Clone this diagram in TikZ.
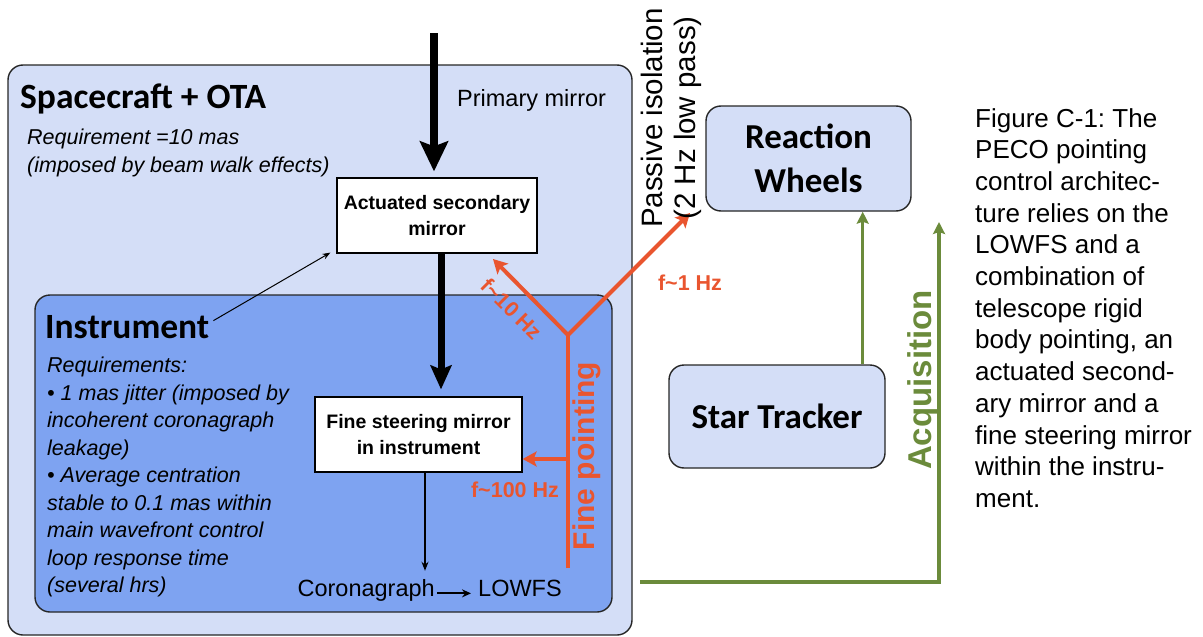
\documentclass[tikz,border=0pt]{standalone}
\usepackage{fontspec}
\setmainfont{Liberation Sans}
\newfontfamily\calibrifont{Carlito}
\usetikzlibrary{arrows.meta,positioning}

\definecolor{craftfill}{HTML}{D4DEF7}
\definecolor{instfill}{HTML}{7EA3F1}
\definecolor{pointred}{HTML}{E9552F}
\definecolor{acqgreen}{HTML}{6B8B3B}
\frenchspacing

\begin{document}
\begin{tikzpicture}[x=1pt,y=-1pt,
    panel/.style={draw=black!85,line width=1.4pt,rounded corners=15pt,inner sep=0pt},
    mirrorbox/.style={draw,fill=white,line width=1.2pt,align=center,inner sep=0pt,
      font=\fontsize{19.5}{26}\selectfont\bfseries},
    unitbox/.style={panel,fill=craftfill,align=center,
      font=\calibrifont\fontsize{35}{44}\selectfont\bfseries},
    boxtitle/.style={anchor=base west,inner sep=0pt,
      font=\calibrifont\fontsize{35.5}{42}\selectfont\bfseries},
    req/.style={anchor=north west,inner sep=0pt,align=left,
      font=\fontsize{21.5}{27.5}\selectfont\itshape},
    plain/.style={inner sep=0pt,font=\fontsize{23.5}{28}\selectfont},
    freq/.style={inner sep=0pt,text=pointred,font=\fontsize{21.5}{24}\selectfont\bfseries},
    beam/.style={line width=8pt,-{Stealth[length=30pt,width=28pt,inset=5pt]}},
    redline/.style={draw=pointred,line width=4pt},
    redarrow/.style={redline,-{Stealth[length=14pt,width=15pt,inset=3pt]}},
    greenarrow/.style={draw=acqgreen,line width=3.5pt,-{Stealth[length=12pt,width=12pt,inset=2pt]}},
    thinarrow/.style={line width=1.2pt,-{Stealth[length=9pt,width=7pt]}}]
  \useasboundingbox (0,0) rectangle (1203,637);

  % containers
  \node[panel,fill=craftfill,minimum width=624pt,minimum height=570pt] (craft) at (320,350) {};
  \node[panel,fill=instfill,minimum width=577pt,minimum height=317pt] (inst) at (323.5,453.5) {};

  \node[boxtitle] (crafttitle) at (20,108) {Spacecraft + OTA};
  \node[boxtitle] (insttitle) at (45,338) {Instrument};
  \node[plain,anchor=base west] (primary) at (457,106) {Primary mirror};

  \node[req] (craftreq) at (27,129) {Requirement =10 mas\\(imposed by beam walk effects)};
  \node[req] (instreq) at (47,357) {Requirements:\\
    \textbullet\ 1 mas jitter (imposed by\\incoherent coronagraph\\leakage)\\
    \textbullet\ Average centration\\stable to 0.1 mas within\\main wavefront control\\
    loop response time\\(several hrs)};

  % mirrors and detectors
  \node[mirrorbox,minimum width=200pt,minimum height=75pt] (asm) at (437,215.5) {Actuated secondary\\mirror};
  \node[mirrorbox,minimum width=207pt,minimum height=75pt] (fsm) at (418.5,434.5) {Fine steering mirror\\in instrument};
  \node[plain,anchor=base east] (coro) at (435,596) {Coronagraph};
  \node[plain,anchor=base west] (lowfs) at (478,596) {LOWFS};

  % outside units
  \node[unitbox,minimum width=205pt,minimum height=105pt] (rw) at (808.5,158.5) {Reaction\\Wheels};
  \node[unitbox,minimum width=216pt,minimum height=103pt] (st) at (777,416.5) {Star Tracker};

  % light path
  \coordinate (sky) at (434,33);
  \draw[beam] (sky) -- (sky |- asm.north) [shorten >=6pt];
  \draw[beam,line width=7pt,-{Stealth[length=24pt,width=21pt,inset=4pt]},shorten >=7pt]
    ([xshift=4pt]asm.south) -- ([xshift=4pt]asm.south |- fsm.north);
  \draw[thinarrow,shorten >=8pt] ([xshift=6.5pt]fsm.south) -- ([xshift=6.5pt]fsm.south |- coro.north);
  \draw[line width=2pt,-{Stealth[length=9pt,width=8pt]}] ([xshift=2pt]coro.mid east) -- ([xshift=-7pt]lowfs.mid west);
  \draw[line width=1pt,-{Stealth[length=8pt,width=6pt]}] ([xshift=4pt,yshift=6pt]insttitle.east) -- ([xshift=-6pt,yshift=1pt]asm.south west);

  % fine pointing loop
  \coordinate (fork) at (568,335);
  \coordinate (fpfoot) at (568,568);
  \coordinate (asmfb) at (493,259);
  \coordinate (rwfb) at (690,213);
  \coordinate (fsmfb) at ([yshift=-24.5pt]fsm.east);
  \draw[redline] (fpfoot) -- (fork);
  \draw[redarrow] (fork) -- (asmfb);
  \draw[redarrow] (fork) -- (rwfb);
  \draw[redarrow] (fpfoot |- fsmfb) -- (fsmfb);
  \node[freq,rotate=-45] (f10) at (512,309) {f\textasciitilde10 Hz};
  \node[freq] (f1) at (690,283) {f\textasciitilde1 Hz};
  \node[freq] (f100) at (515,490) {f\textasciitilde100 Hz};
  \node[rotate=90,inner sep=0pt,text=pointred,font=\fontsize{30}{36}\selectfont\bfseries] (fp) at (587,456) {Fine pointing};
  \node[rotate=90,align=center,inner sep=0pt,font=\fontsize{29.5}{33}\selectfont] (iso) at (671,118) {Passive isolation\\(2 Hz low pass)};

  % acquisition loop
  \coordinate (acqfoot) at (640,582);
  \coordinate (acqtop) at (939,222);
  \draw[greenarrow] ([xshift=-23pt]st.north east) -- ([xshift=-23pt]st.north east |- rw.south);
  \draw[greenarrow] (acqfoot) -| (acqtop);
  \node[rotate=90,inner sep=0pt,text=acqgreen,font=\fontsize{33}{38}\selectfont\bfseries] (acq) at (923,380) {Acquisition};

  % caption
  \node[anchor=north west,inner sep=0pt,align=left,font=\fontsize{26}{31.7}\selectfont] (caption) at (975,108)
    {Figure C-1: The\\PECO pointing\\control architec-\\ture relies on the\\LOWFS and a\\combination of\\
     telescope rigid\\body pointing, an\\actuated second-\\ary mirror and a\\fine steering mirror\\
     within the instru-\\ment.};
\end{tikzpicture}
\end{document}
